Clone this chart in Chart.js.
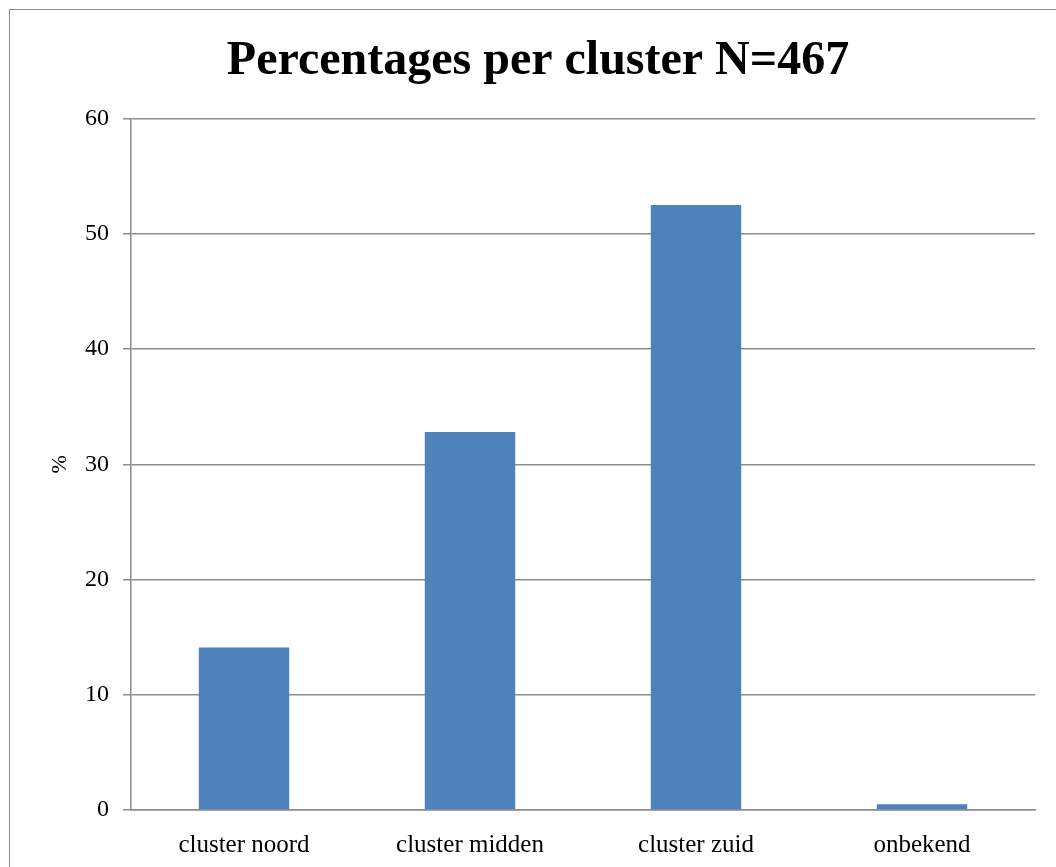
<!DOCTYPE html>
<html>
<head>
<meta charset="utf-8">
<script src="https://cdn.jsdelivr.net/npm/chart.js@4"></script>
<style>
  html, body { margin: 0; padding: 0; background: #fff; overflow: hidden; }
  #frame { position: absolute; left: 9px; top: 9px; width: 1100px; height: 900px; border: 1.5px solid #8c8c8c; }
  #wrap { position: absolute; left: 0; top: 0; width: 1056px; height: 867px; }
</style>
</head>
<body>
<div id="frame"></div>
<div id="wrap"><canvas id="clusterChart"></canvas></div>
<script>
const categories = ['cluster noord', 'cluster midden', 'cluster zuid', 'onbekend'];
const percentages = [14.1, 32.8, 52.5, 0.5];
const yTicks = [0, 10, 20, 30, 40, 50, 60];

const gridGray = '#8c8c8c';
const serif = "'Liberation Serif', 'Times New Roman', serif";

const ctx = document.getElementById('clusterChart').getContext('2d');
new Chart(ctx, {
  type: 'bar',
  data: {
    labels: categories,
    datasets: [{
      label: '%',
      data: percentages,
      backgroundColor: '#4F81BD',
      borderWidth: 0,
      barPercentage: 0.4,
      categoryPercentage: 1.0
    }]
  },
  options: {
    responsive: true,
    maintainAspectRatio: false,
    animation: false,
    // left padding shifts the title centre to match the original
    layout: { padding: { left: 41, right: 21, top: 0, bottom: 0 } },
    plugins: {
      legend: { display: false },
      tooltip: { enabled: false },
      title: {
        display: true,
        text: 'Percentages per cluster N=467',
        color: '#000',
        font: { family: serif, size: 48, weight: 'bold', lineHeight: 1.2 },
        padding: { top: 33, bottom: 28 }
      }
    },
    scales: {
      x: {
        grid: { display: false },
        border: { display: true, color: gridGray, width: 1.5 },
        ticks: {
          color: '#000',
          padding: 12,
          maxRotation: 0,
          font: { family: serif, size: 25 }
        },
        afterFit: (scale) => { scale.height = 57; }
      },
      y: {
        min: yTicks[0],
        max: yTicks[yTicks.length - 1],
        afterBuildTicks: (scale) => { scale.ticks = yTicks.map(v => ({ value: v })); },
        grid: { color: gridGray, lineWidth: 1.5, tickLength: 8, drawTicks: true },
        border: { display: true, color: gridGray, width: 1.5 },
        ticks: {
          color: '#000',
          padding: 14,
          font: { family: serif, size: 24 }
        },
        title: {
          display: true,
          text: '%',
          color: '#000',
          font: { family: serif, size: 22 },
          padding: { top: 6, bottom: 0 }
        },
        afterFit: (scale) => { scale.width = 90; }
      }
    }
  }
});
</script>
</body>
</html>
